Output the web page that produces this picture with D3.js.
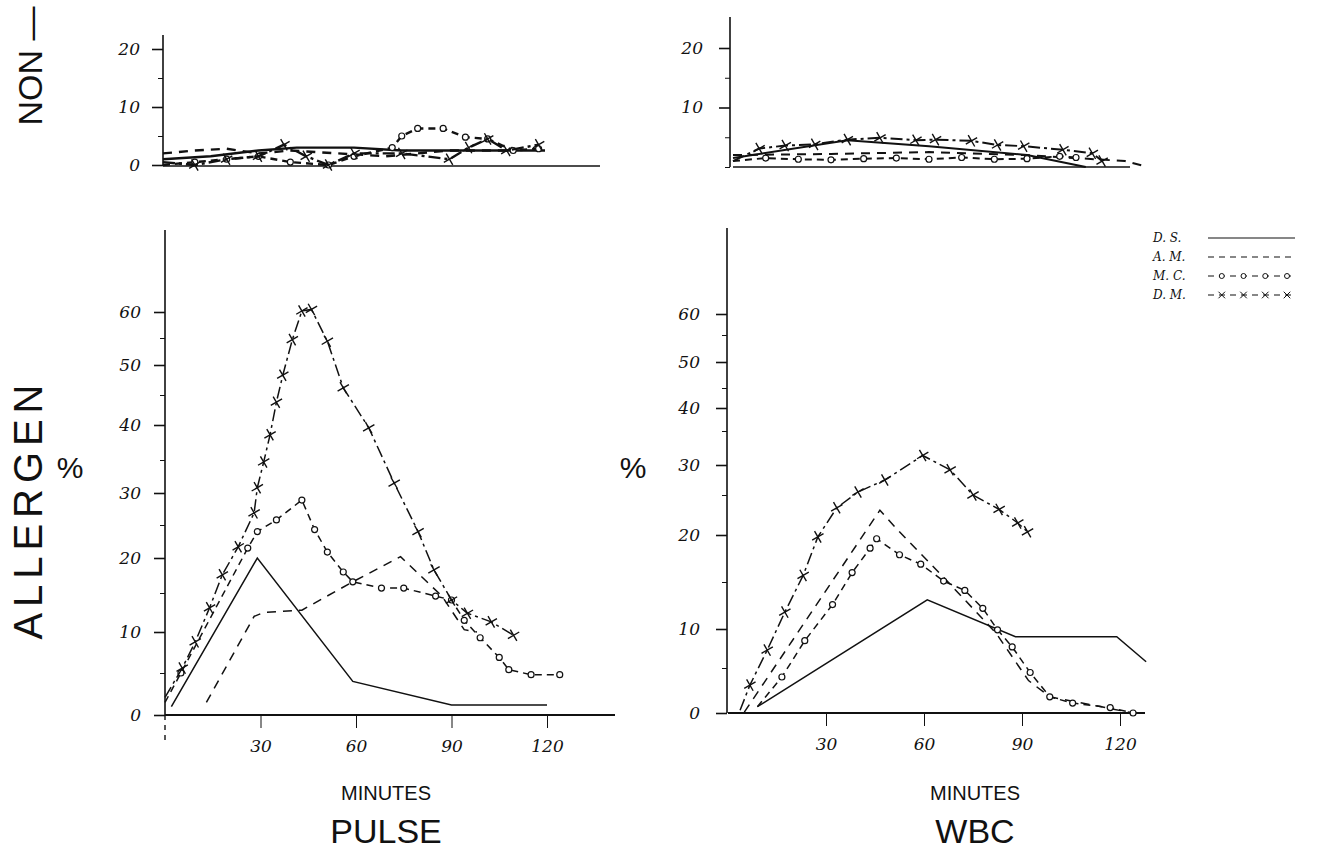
<!DOCTYPE html>
<html>
<head>
<meta charset="utf-8">
<script src="https://cdn.jsdelivr.net/npm/d3@7"></script>
<style>
  body { margin: 0; background: #fff; }
  svg { display: block; }
  .hand { font-family: "DejaVu Serif", serif; font-style: italic; font-size: 17px; fill: #111; }
  .title { font-family: "Liberation Sans", Arial, sans-serif; fill: #111; }
  .axis path, .axis line { stroke: #111; }
</style>
</head>
<body>
<script>
// minutes, percent change
var series_names = ["D. S.", "A. M.", "M. C.", "D. M."]

var pulse_non_ds = [[0,1],[15,1.5],[30,2.5],[42,3],[60,3],[75,2.5],[90,2.5],[105,2.5],[120,2.5]]
var pulse_non_am = [[0,2],[10,2.5],[20,2.8],[30,2],[40,2.5],[55,2],[70,1.5],[90,2.5],[110,2.5]]
var pulse_non_mc = [[0,0],[10,0.5],[20,1],[30,1.5],[40,0.5],[52,0],[60,1.5],[72,3],[75,5],[80,6.3],[88,6.3],[95,4.8],[102,4.5],[110,2.5],[118,2.8]]
var pulse_non_dm = [[0,0.5],[10,0],[20,1],[30,1.5],[38,3.5],[45,1.5],[52,0],[60,2],[75,2],[90,1],[96,3],[102,4.5],[108,2.5],[118,3.5]]

var wbc_non_ds = [[0,1.5],[35,4.5],[60,3.5],[90,2],[108,0]]
var wbc_non_am = [[0,2],[30,2.2],[60,2.5],[90,2],[120,1],[127,0]]
var wbc_non_mc = [[0,1],[10,1.5],[20,1.3],[30,1.2],[40,1.4],[50,1.5],[60,1.3],[70,1.6],[80,1.3],[90,1.4],[100,1.8],[105,1.6]]
var wbc_non_dm = [[0,1],[8,3.1],[16,3.6],[25,3.8],[35,4.6],[45,4.9],[56,4.5],[62,4.6],[73,4.4],[81,3.7],[89,3.5],[101,2.9],[110,2.3],[113,1]]

var pulse_all_ds = [[2,1],[29,20],[59,4],[90,1.2],[120,1.2]]
var pulse_all_am = [[13,1.5],[28,12],[31,12.5],[43,12.8],[59,16.6],[74,20.2],[87,14.6],[94,10.3],[98,10]]
var pulse_all_mc = [[0,1.5],[5,5],[26,21.5],[29,24],[35,25.8],[43,28.9],[47,24.3],[51,20.9],[56,18],[59,16.6],[68,15.7],[75,15.7],[85,14.6],[90,14.1],[94,11.5],[99,9.3],[105,6.9],[108,5.4],[115,4.8],[124,4.8]]
var pulse_all_dm = [[0,2.1],[5.4,5.6],[9.5,8.8],[14,13.1],[18,17.6],[23,21.7],[28,26.9],[29,30.8],[31,34.7],[33,38.6],[35,43.8],[37,48.3],[40,54.7],[43,60.2],[46,60.5],[51,54.4],[56,46.2],[64,39.6],[72,31.5],[79.5,24],[84.5,18.3],[90,14.1],[95,12.4],[102.5,11.3],[109.5,9.6]]

var wbc_all_ds = [[9,0.7],[61,13.1],[88,9],[119,9],[128,5.8]]
var wbc_all_am = [[5,0.1],[46.5,23.1],[52,20.6],[66,15.5],[82,9.5],[92,3.6],[98.5,1.8],[124,0]]
var wbc_all_mc = [[9,0.7],[16.5,4],[23.5,8.5],[32,12.6],[38,16],[43.5,18.6],[45.5,19.6],[52.5,17.9],[59,16.9],[66,15.1],[72.5,14.1],[78,12.2],[82.5,9.9],[87,7.7],[92.5,4.5],[98.5,1.8],[105.5,1.1],[117,0.6],[124,0]]
var wbc_all_dm = [[3.7,0.3],[6.7,3.1],[12,7.3],[17.4,11.8],[23,15.7],[27.5,19.8],[33.3,23.4],[39.8,25.5],[48,27.5],[59.6,31.4],[68,29.2],[75,25],[83,23.2],[88.7,21.5],[91.7,20.4]]

var non_ticks = [0,5,10,15,20]
var all_ticks = [0,5,10,15,20,25,30,35,40,45,50,55,60]
var minute_ticks = [30,60,90,120]

var width = 1320, height = 854

var svg = d3.select("body").append("svg")
    .attr("width", width)
    .attr("height", height)

// the hand drawn axes are not even, so the tall panels get piecewise scales
var pulse_x = d3.scaleLinear().domain([0,120]).range([165,547])
var pulse_y = d3.scaleLinear().domain(all_ticks).range([715,673,632,593,558,525,493,460,425,395,365,338,312])
var wbc_x = d3.scaleLinear().domain([0,120]).range([728,1120])
var wbc_y = d3.scaleLinear().domain(all_ticks).range([713,668,629,582,535,495,465,431,408,388,362,335,314])
var pulse_non_x = d3.scaleLinear().domain([0,120]).range([163,545])
var pulse_non_y = d3.scaleLinear().domain([0,20]).range([165,49])
var wbc_non_x = d3.scaleLinear().domain([0,120]).range([733,1125])
var wbc_non_y = d3.scaleLinear().domain([0,20]).range([167,48])

var styles = [
  {dash: null, marker: null},
  {dash: "9,7", marker: null},
  {dash: "7,5", marker: "o"},
  {dash: "12,4,3,4", marker: "x"}
]

var draw_y_axis = function(y, x0, top, bottom, ticks, labelled, pad){
  var g = svg.append("g").attr("class","axis").attr("transform","translate("+x0+",0)")
  g.call(d3.axisLeft(y).tickValues(ticks.filter(function(t){ return labelled.indexOf(t) < 0 }))
      .tickSize(5).tickFormat(""))
  g.call(function(s){ s.select(".domain").remove() })
  var g2 = svg.append("g").attr("class","axis").attr("transform","translate("+x0+",0)")
  g2.call(d3.axisLeft(y).tickValues(labelled).tickSize(11).tickPadding(pad).tickFormat(d3.format("d")))
  g2.select(".domain").remove()
  g2.selectAll("text").attr("class","hand").attr("font-size",null).attr("font-family",null)
  g2.selectAll("line").attr("stroke-width",1.6)
  svg.append("line")
      .attr("x1",x0).attr("x2",x0)
      .attr("y1",top).attr("y2",y(0))
      .attr("stroke","#111").attr("stroke-width",1.6)
  if(bottom > y(0)){
    svg.append("line")
        .attr("x1",x0).attr("x2",x0)
        .attr("y1",y(0)).attr("y2",bottom)
        .attr("stroke","#111").attr("stroke-width",1.4).attr("stroke-dasharray","5,5")
  }
}

var draw_x_axis = function(x, y0, right, ticks){
  var g = svg.append("g").attr("class","axis").attr("transform","translate(0,"+y0+")")
  if(ticks.length){
    g.call(d3.axisBottom(x).tickValues(ticks).tickSize(13).tickPadding(12).tickFormat(d3.format("d")))
    g.select(".domain").remove()
    g.selectAll("text").attr("class","hand").attr("font-size",null).attr("font-family",null)
  }
  svg.append("line")
      .attr("x1",x(0)).attr("x2",right)
      .attr("y1",y0).attr("y2",y0)
      .attr("stroke","#111").attr("stroke-width",ticks.length ? 2 : 1.5)
}

var draw_series = function(data, x, y, style, w, msize){
  var line = d3.line().x(function(d){ return x(d[0]) }).y(function(d){ return y(d[1]) })
  svg.append("path")
      .datum(data)
      .attr("d", line)
      .attr("fill","none")
      .attr("stroke","#111")
      .attr("stroke-width", w)
      .attr("stroke-dasharray", style.dash)
  if(style.marker == "o"){
    svg.selectAll(null).data(data.slice(1)).enter().append("circle")
        .attr("cx", function(d){ return x(d[0]) })
        .attr("cy", function(d){ return y(d[1]) })
        .attr("r", msize*0.5)
        .attr("fill","#fff").attr("stroke","#111").attr("stroke-width",1.2)
  }else if(style.marker == "x"){
    svg.selectAll(null).data(data.slice(1)).enter().append("path")
        .attr("transform", function(d){ return "translate("+x(d[0])+","+y(d[1])+") rotate(15)" })
        .attr("d", d3.symbol(d3.symbolTimes, msize*msize*1.6))
        .attr("fill","none").attr("stroke","#111").attr("stroke-width",1.4)
  }
}

// top panels (NON allergen)
draw_y_axis(pulse_non_y, 163, 35, 0, non_ticks, [0,10,20], 12)
draw_x_axis(pulse_non_x, 166, 600, [])
draw_y_axis(wbc_non_y, 730, 17, 0, non_ticks, [10,20], 16)
draw_x_axis(wbc_non_x, 167, 1130, [])

;[pulse_non_ds, pulse_non_am, pulse_non_mc, pulse_non_dm].forEach(function(d,i){
  draw_series(d, pulse_non_x, pulse_non_y, styles[i], 2.4, 6)
})
;[wbc_non_ds, wbc_non_am, wbc_non_mc, wbc_non_dm].forEach(function(d,i){
  draw_series(d, wbc_non_x, wbc_non_y, styles[i], 2, 6)
})

// bottom panels (ALLERGEN)
draw_y_axis(pulse_y, 165, 230, 745, all_ticks, [0,10,20,30,40,50,60], 13)
draw_x_axis(pulse_x, 715, 615, minute_ticks)
draw_y_axis(wbc_y, 727, 228, 0, all_ticks, [0,10,20,30,40,50,60], 16)
draw_x_axis(wbc_x, 713, 1145, minute_ticks)

;[pulse_all_ds, pulse_all_am, pulse_all_mc, pulse_all_dm].forEach(function(d,i){
  draw_series(d, pulse_x, pulse_y, styles[i], 1.5, 6)
})
;[wbc_all_ds, wbc_all_am, wbc_all_mc, wbc_all_dm].forEach(function(d,i){
  draw_series(d, wbc_x, wbc_y, styles[i], 1.5, 6)
})

// legend
var legend = svg.append("g").attr("transform","translate(1153,238)")
var leg_x = d3.scaleLinear().domain([0,1]).range([55,142])
series_names.forEach(function(name,i){
  var row = legend.append("g").attr("transform","translate(0,"+(i*19)+")")
  row.append("text").attr("class","hand").style("font-size","12px").attr("y",4).text(name)
  var pts = d3.range(0,1.01,0.25).map(function(t){ return [t,0] })
  var line = d3.line().x(function(d){ return leg_x(d[0]) }).y(0)
  row.append("path").datum(pts).attr("d",line)
      .attr("stroke","#111").attr("stroke-width",1.2).attr("fill","none")
      .attr("stroke-dasharray", styles[i].dash ? "6,5" : null)
  if(styles[i].marker == "o"){
    row.selectAll("circle").data(pts.slice(1)).enter().append("circle")
        .attr("cx",function(d){ return leg_x(d[0]) - 8 }).attr("r",2.5)
        .attr("fill","#fff").attr("stroke","#111")
  }else if(styles[i].marker == "x"){
    row.selectAll(".m").data(pts.slice(1)).enter().append("path")
        .attr("transform",function(d){ return "translate("+(leg_x(d[0]) - 8)+",0)" })
        .attr("d", d3.symbol(d3.symbolTimes, 30))
        .attr("fill","none").attr("stroke","#111")
  }
})

// labels
svg.append("text").attr("class","title")
    .attr("transform","translate(42,66) rotate(-90)")
    .attr("text-anchor","middle").attr("font-size",34)
    .text("NON —")
svg.append("text").attr("class","title")
    .attr("transform","translate(42,512) rotate(-90)")
    .attr("text-anchor","middle").attr("font-size",40)
    .attr("textLength",255).attr("lengthAdjust","spacing")
    .text("ALLERGEN")
svg.append("text").attr("class","title").attr("x",70).attr("y",478)
    .attr("text-anchor","middle").attr("font-size",30).text("%")
svg.append("text").attr("class","title").attr("x",633).attr("y",478)
    .attr("text-anchor","middle").attr("font-size",30).text("%")

;[[386,"PULSE"],[975,"WBC"]].forEach(function(d){
  svg.append("text").attr("class","title").attr("x",d[0]).attr("y",800)
      .attr("text-anchor","middle").attr("font-size",20).text("MINUTES")
  svg.append("text").attr("class","title").attr("x",d[0]).attr("y",843)
      .attr("text-anchor","middle").attr("font-size",34).text(d[1])
})
</script>
</body>
</html>
